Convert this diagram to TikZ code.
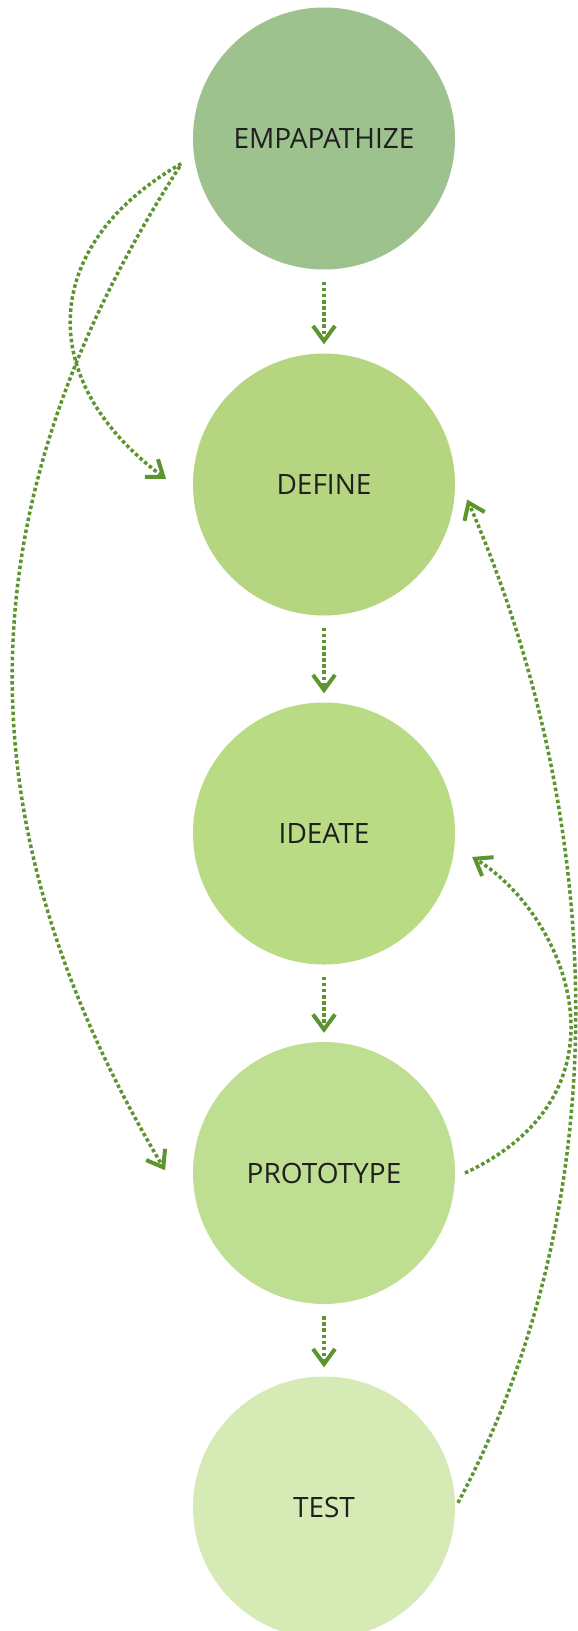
\documentclass[tikz,border=0pt]{standalone}
\usepackage{fontspec}
\setmainfont{Open Sans}
\usetikzlibrary{arrows.meta,calc}
\definecolor{dotgreen}{RGB}{92,148,48}
\definecolor{empgreen}{RGB}{157,194,141}
\definecolor{defgreen}{RGB}{182,213,128}
\definecolor{idegreen}{RGB}{185,219,131}
\definecolor{progreen}{RGB}{190,223,146}
\definecolor{tstgreen}{RGB}{214,234,182}
\tikzset{
  phase/.style = {circle, draw=none, inner sep=0pt, minimum size=262bp,
    align=center, text=black!88, font=\fontsize{28bp}{33bp}\selectfont},% etape
  ph_emp/.style = {phase, fill=empgreen},% etape 1
  ph_def/.style = {phase, fill=defgreen},% etape 2
  ph_ide/.style = {phase, fill=idegreen},% etape 3
  ph_pro/.style = {phase, fill=progreen},% etape 4
  ph_tst/.style = {phase, fill=tstgreen},% etape 5
  flow/.style = {draw=dotgreen, line width=3.5bp,
    dash pattern=on 3.5bp off 2.6bp}% fleche pointillee
}
\begin{document}
\begin{tikzpicture}[x=1bp,y=-1bp,->,
  >={Straight Barb[length=15bp,width=22bp,line width=4bp]}]
\useasboundingbox (0,0) rectangle (578,1631);
\node [ph_emp] (emp) at (324,138.5) {EMPAPATHIZE};
\node [ph_def] (def) at (324,484.5) {DEFINE};
\node [ph_ide] (ide) at (324,833.5) {IDEATE};
\node [ph_pro] (pro) at (324,1173) {PROTOTYPE};
\node [ph_tst] (tst) at (324,1507.5) {TEST};
% etapes
\foreach \a/\b in {emp/def,def/ide,ide/pro,pro/tst}
  \draw [flow, shorten <=12bp, shorten >=9bp] (\a) -- (\b);
% retours a gauche
\draw [flow] ($(emp)+(190:145bp)$) .. controls +(-143,82) and +(-131,-98)
  .. ($(def)+(178:158bp)$);
\draw [flow] ($(emp)+(191:147bp)$) .. controls +(-219,340) and +(-207,-348)
  .. ($(pro)+(179:159bp)$);
% retours a droite
\draw [flow] ($(tst)+(2:134bp)$) .. controls +(167,-312) and +(134,308)
  .. ($(def)+(-6:144bp)$);
\draw [flow] ($(pro)+(0:141bp)$) .. controls +(175,-82) and +(93,57)
  .. ($(ide)+(-9:150bp)$);
\end{tikzpicture}
\end{document}
